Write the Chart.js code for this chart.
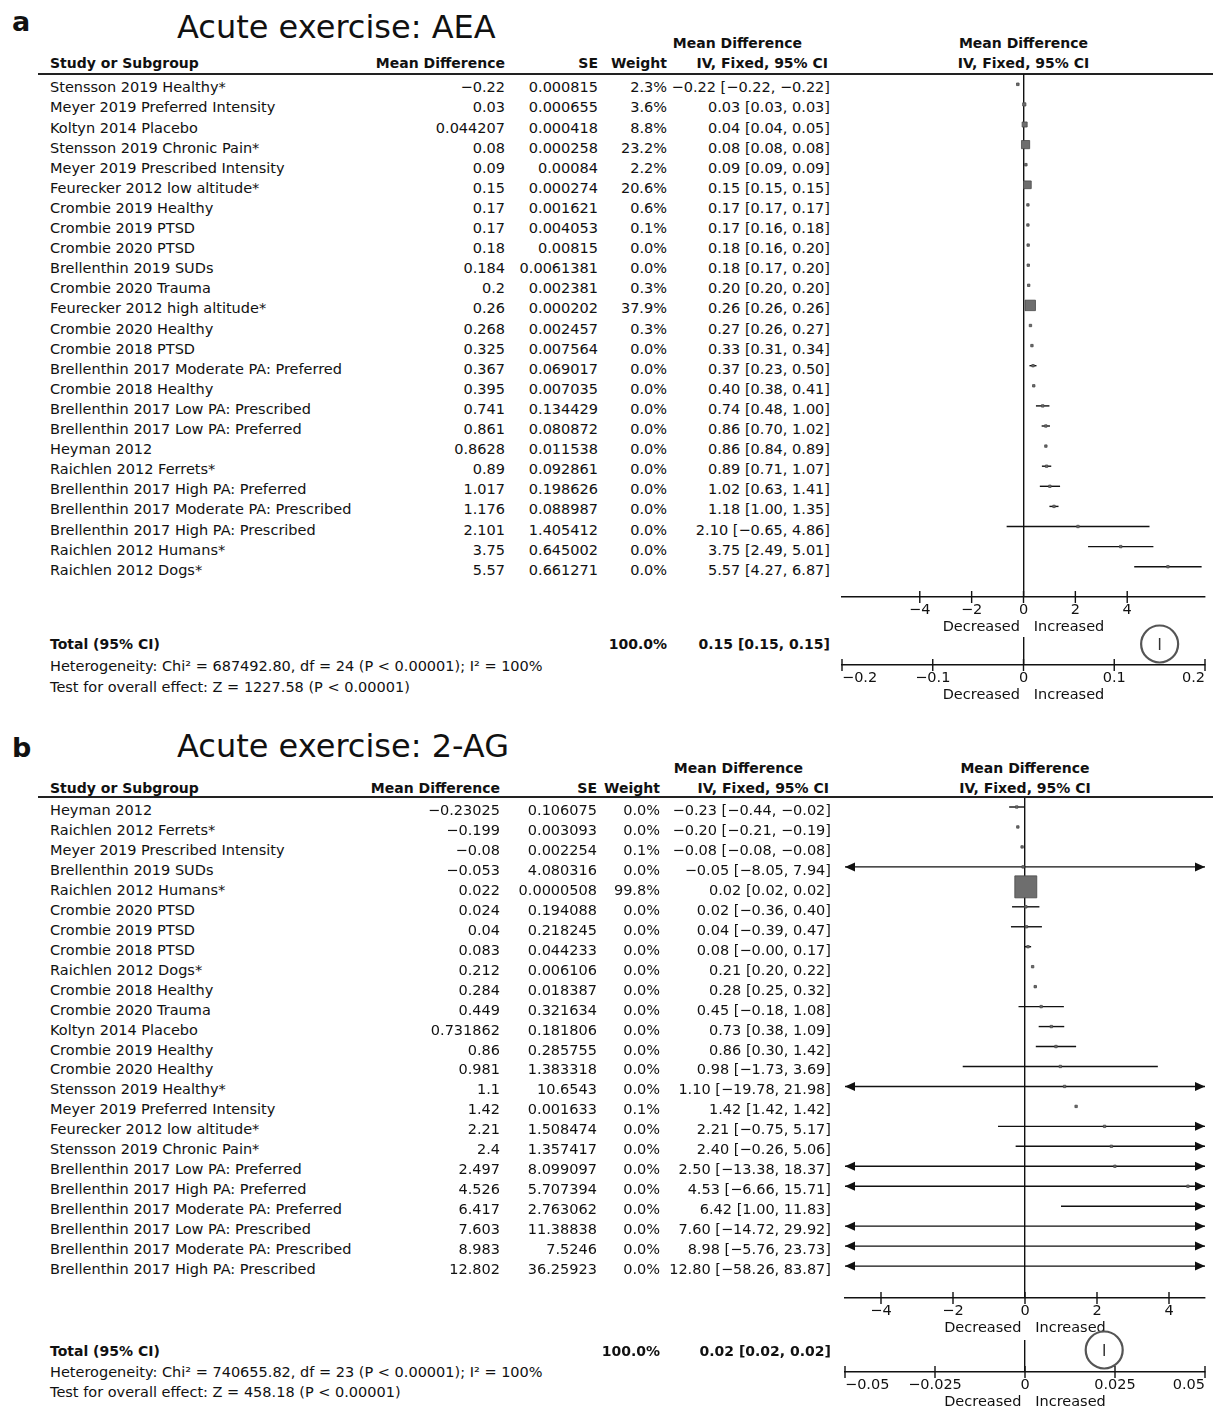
<!DOCTYPE html>
<html>
<head>
<meta charset="utf-8">
<script src="https://cdn.jsdelivr.net/npm/chart.js@4.4.0/dist/chart.umd.min.js"></script>
<style>
body { margin: 0; background: #fff; font-family: "DejaVu Sans", sans-serif; color: #111; }
#page { position: relative; width: 1213px; height: 1408px; overflow: hidden; }
.t { position: absolute; white-space: nowrap; font-size: 14.5px; line-height: 20px; }
.b { font-weight: bold; font-size: 14px; }
.rule { position: absolute; left: 38px; width: 1175px; height: 2px; background: #222; }
canvas { position: absolute; }
</style>
</head>
<body>
<div id="page"></div>
<script>
// ---- panel a : AEA ----
const aStudies = ["Stensson 2019 Healthy*", "Meyer 2019 Preferred Intensity", "Koltyn 2014 Placebo",
  "Stensson 2019 Chronic Pain*", "Meyer 2019 Prescribed Intensity", "Feurecker 2012 low altitude*",
  "Crombie 2019 Healthy", "Crombie 2019 PTSD", "Crombie 2020 PTSD", "Brellenthin 2019 SUDs",
  "Crombie 2020 Trauma", "Feurecker 2012 high altitude*", "Crombie 2020 Healthy", "Crombie 2018 PTSD",
  "Brellenthin 2017 Moderate PA: Preferred", "Crombie 2018 Healthy", "Brellenthin 2017 Low PA: Prescribed",
  "Brellenthin 2017 Low PA: Preferred", "Heyman 2012", "Raichlen 2012 Ferrets*",
  "Brellenthin 2017 High PA: Preferred", "Brellenthin 2017 Moderate PA: Prescribed",
  "Brellenthin 2017 High PA: Prescribed", "Raichlen 2012 Humans*", "Raichlen 2012 Dogs*"];
const aMD = [-0.22, 0.03, 0.044207, 0.08, 0.09, 0.15, 0.17, 0.17, 0.18, 0.184, 0.2, 0.26, 0.268, 0.325,
  0.367, 0.395, 0.741, 0.861, 0.8628, 0.89, 1.017, 1.176, 2.101, 3.75, 5.57];
const aSE = [0.000815, 0.000655, 0.000418, 0.000258, 0.00084, 0.000274, 0.001621, 0.004053, 0.00815,
  0.0061381, 0.002381, 0.000202, 0.002457, 0.007564, 0.069017, 0.007035, 0.134429, 0.080872, 0.011538,
  0.092861, 0.198626, 0.088987, 1.405412, 0.645002, 0.661271];
const aWeight = [2.3, 3.6, 8.8, 23.2, 2.2, 20.6, 0.6, 0.1, 0.0, 0.0, 0.3, 37.9, 0.3, 0.0, 0.0, 0.0, 0.0,
  0.0, 0.0, 0.0, 0.0, 0.0, 0.0, 0.0, 0.0];
const aLow = [-0.22, 0.03, 0.04, 0.08, 0.09, 0.15, 0.17, 0.16, 0.16, 0.17, 0.20, 0.26, 0.26, 0.31, 0.23,
  0.38, 0.48, 0.70, 0.84, 0.71, 0.63, 1.00, -0.65, 2.49, 4.27];
const aHigh = [-0.22, 0.03, 0.05, 0.08, 0.09, 0.15, 0.17, 0.18, 0.20, 0.20, 0.20, 0.26, 0.27, 0.34, 0.50,
  0.41, 1.00, 1.02, 0.89, 1.07, 1.41, 1.35, 4.86, 5.01, 6.87];
const aTotal = [0.15, 0.15, 0.15];           // estimate, lower, upper
const aTicks = [-4, -2, 0, 2, 4];
const aTotalTicks = [-0.2, -0.1, 0, 0.1, 0.2];
const aHetero = "Heterogeneity: Chi² = 687492.80, df = 24 (P < 0.00001); I² = 100%";
const aOverall = "Test for overall effect: Z = 1227.58 (P < 0.00001)";

// ---- panel b : 2-AG ----
const bStudies = ["Heyman 2012", "Raichlen 2012 Ferrets*", "Meyer 2019 Prescribed Intensity",
  "Brellenthin 2019 SUDs", "Raichlen 2012 Humans*", "Crombie 2020 PTSD", "Crombie 2019 PTSD",
  "Crombie 2018 PTSD", "Raichlen 2012 Dogs*", "Crombie 2018 Healthy", "Crombie 2020 Trauma",
  "Koltyn 2014 Placebo", "Crombie 2019 Healthy", "Crombie 2020 Healthy", "Stensson 2019 Healthy*",
  "Meyer 2019 Preferred Intensity", "Feurecker 2012 low altitude*", "Stensson 2019 Chronic Pain*",
  "Brellenthin 2017 Low PA: Preferred", "Brellenthin 2017 High PA: Preferred",
  "Brellenthin 2017 Moderate PA: Preferred", "Brellenthin 2017 Low PA: Prescribed",
  "Brellenthin 2017 Moderate PA: Prescribed", "Brellenthin 2017 High PA: Prescribed"];
const bMD = [-0.23025, -0.199, -0.08, -0.053, 0.022, 0.024, 0.04, 0.083, 0.212, 0.284, 0.449, 0.731862,
  0.86, 0.981, 1.1, 1.42, 2.21, 2.4, 2.497, 4.526, 6.417, 7.603, 8.983, 12.802];
const bSE = [0.106075, 0.003093, 0.002254, 4.080316, 0.0000508, 0.194088, 0.218245, 0.044233, 0.006106,
  0.018387, 0.321634, 0.181806, 0.285755, 1.383318, 10.6543, 0.001633, 1.508474, 1.357417, 8.099097,
  5.707394, 2.763062, 11.38838, 7.5246, 36.25923];
const bWeight = [0.0, 0.0, 0.1, 0.0, 99.8, 0.0, 0.0, 0.0, 0.0, 0.0, 0.0, 0.0, 0.0, 0.0, 0.0, 0.1, 0.0,
  0.0, 0.0, 0.0, 0.0, 0.0, 0.0, 0.0];
const bLow = [-0.44, -0.21, -0.08, -8.05, 0.02, -0.36, -0.39, -0.004, 0.20, 0.25, -0.18, 0.38, 0.30, -1.73,
  -19.78, 1.42, -0.75, -0.26, -13.38, -6.66, 1.00, -14.72, -5.76, -58.26];
const bHigh = [-0.02, -0.19, -0.08, 7.94, 0.02, 0.40, 0.47, 0.17, 0.22, 0.32, 1.08, 1.09, 1.42, 3.69,
  21.98, 1.42, 5.17, 5.06, 18.37, 15.71, 11.83, 29.92, 23.73, 83.87];
const bTotal = [0.022, 0.02, 0.02];
const bTicks = [-4, -2, 0, 2, 4];
const bTotalTicks = [-0.05, -0.025, 0, 0.025, 0.05];
const bHetero = "Heterogeneity: Chi² = 740655.82, df = 23 (P < 0.00001); I² = 100%";
const bOverall = "Test for overall effect: Z = 458.18 (P < 0.00001)";

const INK = '#111';
const FONT = '"DejaVu Sans", sans-serif';
const page = document.getElementById('page');

const minus = s => s.replace('-', '\u2212');
const fmt2 = v => (v < 0 ? '\u2212' : '') + (Math.round(Math.abs(v) * 100 + 1e-7) / 100).toFixed(2);
const ciText = (m, l, h) => fmt2(m) + ' [' + fmt2(l) + ', ' + fmt2(h) + ']';

function put(str, x, y, cls, align, style) {
  const d = document.createElement('div');
  d.className = 't ' + (cls || '');
  d.textContent = str;
  d.style.top = (y - 10) + 'px';
  if (align === 'right') d.style.right = (1213 - x) + 'px';
  else if (align === 'center') { d.style.left = x + 'px'; d.style.transform = 'translateX(-50%)'; }
  else d.style.left = x + 'px';
  if (style) Object.assign(d.style, style);
  page.appendChild(d);
  return d;
}

function addCanvas(left, top, w, h) {
  const c = document.createElement('canvas');
  c.width = w; c.height = h;
  c.style.left = left + 'px'; c.style.top = top + 'px';
  c.style.width = w + 'px'; c.style.height = h + 'px';
  page.appendChild(c);
  return c;
}

// CI whiskers, with arrow heads when clipped by the axis range
const ciLines = {
  id: 'ciLines',
  beforeDatasetsDraw(chart) {
    const { ctx, scales: { x, y } } = chart;
    chart.data.datasets.forEach(ds => ds.data.forEach(d => {
      if (d.lo === undefined) return;
      if (d.hi < x.min || d.lo > x.max) return;
      const py = y.getPixelForValue(d.y);
      const x1 = x.getPixelForValue(Math.max(d.lo, x.min));
      const x2 = x.getPixelForValue(Math.min(d.hi, x.max));
      ctx.save();
      ctx.strokeStyle = INK; ctx.fillStyle = INK; ctx.lineWidth = 1.4;
      ctx.beginPath(); ctx.moveTo(x1, py); ctx.lineTo(x2, py); ctx.stroke();
      const arrow = (px, dir) => {
        ctx.beginPath();
        ctx.moveTo(px, py);
        ctx.lineTo(px - dir * 10, py - 4.5);
        ctx.lineTo(px - dir * 10, py + 4.5);
        ctx.closePath(); ctx.fill();
      };
      if (d.lo < x.min) arrow(x1, -1);
      if (d.hi > x.max) arrow(x2, 1);
      ctx.restore();
    }));
  }
};

// tick marks crossing the axis line
const crossTicks = {
  id: 'crossTicks',
  afterDraw(chart) {
    const x = chart.scales.x, ctx = chart.ctx, y0 = x.top;
    ctx.save();
    ctx.strokeStyle = INK; ctx.lineWidth = 1.4;
    x.ticks.forEach(t => {
      const px = x.getPixelForValue(t.value);
      ctx.beginPath(); ctx.moveTo(px, y0 - 6); ctx.lineTo(px, y0 + 6); ctx.stroke();
    });
    ctx.restore();
  }
};

function xScale(min, max, ticks, align) {
  return {
    type: 'linear', min: min, max: max,
    afterBuildTicks: s => { s.ticks = ticks.map(v => ({ value: v })); },
    afterFit: s => { s.height = 40; },
    ticks: { color: INK, font: { family: FONT, size: 14.5 }, padding: 5, align: align,
             callback: v => minus(String(v)) },
    grid: { drawTicks: false, lineWidth: 1.4,
            color: c => (c.tick && c.tick.value === 0) ? INK : 'rgba(0,0,0,0)' },
    border: { display: true, color: INK, width: 1.4 },
    title: { display: true, text: 'Decreased   Increased', color: INK,
             font: { family: FONT, size: 14.5 }, padding: { top: 0, bottom: 1.5 } }
  };
}

function panel(P, L) {
  put(L.label, 12, L.labelY, '', 'left', { fontWeight: 'bold', fontSize: '27px', lineHeight: '20px' });
  put(L.title, 177, L.titleY, '', 'left', { fontSize: '32px', lineHeight: '20px' });

  // header
  put('Study or Subgroup', 50, L.headLower, 'b');
  put('Mean Difference', L.cols.md, L.headLower, 'b', 'right');
  put('SE', L.cols.se, L.headLower, 'b', 'right');
  put('Weight', L.cols.w, L.headLower, 'b', 'right');
  put('Mean Difference', L.cols.ci - 28, L.headUpper, 'b', 'right');
  put('IV, Fixed, 95% CI', L.cols.ci - 2, L.headLower, 'b', 'right');
  const rule = document.createElement('div');
  rule.className = 'rule'; rule.style.top = L.ruleY + 'px';
  page.appendChild(rule);

  // study rows
  const areaH = L.axisY - L.areaTop;
  const ymin = -(L.firstRow - L.areaTop) / L.step;
  const cv = addCanvas(830, L.areaTop, 383, areaH + 40);
  const side = w => Math.max(2.4, L.k * Math.sqrt(w));
  const chart = new Chart(cv, {
    type: 'scatter',
    data: { datasets: [{
      data: P.md.map((v, i) => ({ x: v, y: i, lo: P.low[i], hi: P.high[i] })),
      pointStyle: 'rect',
      pointRadius: c => side(P.weight[c.dataIndex]) / Math.SQRT2,
      pointBackgroundColor: '#6e6e6e', pointBorderColor: '#4a4a4a', pointBorderWidth: 0.8
    }] },
    options: {
      responsive: false, animation: false, devicePixelRatio: 1, events: [],
      layout: { autoPadding: false, padding: { left: L.padLeft, right: 8, top: 0, bottom: 0 } },
      plugins: { legend: { display: false }, tooltip: { enabled: false } },
      scales: {
        x: xScale(L.xmin, L.xmax, P.ticks, 'center'),
        y: { type: 'linear', display: false, reverse: true, min: ymin, max: ymin + areaH / L.step }
      }
    },
    plugins: [ciLines, crossTicks]
  });

  const zeroX = 830 + chart.scales.x.getPixelForValue(0);
  put('Mean Difference', zeroX, L.headUpper, 'b', 'center');
  put('IV, Fixed, 95% CI', zeroX, L.headLower, 'b', 'center');

  P.studies.forEach((s, i) => {
    const y = L.areaTop + chart.scales.y.getPixelForValue(i) + 3;
    put(s, 50, y);
    put(minus(String(P.md[i])), L.cols.md, y, '', 'right');
    put(String(P.se[i]), L.cols.se, y, '', 'right');
    put(P.weight[i].toFixed(1) + '%', L.cols.w, y, '', 'right');
    put(ciText(P.md[i], P.low[i], P.high[i]), L.cols.ci, y, '', 'right');
  });

  // total (pooled) row with its own zoomed axis; extra top room for the highlight ring
  const ring = 24;
  const tH = L.totalAxis - L.totalTop;
  const tmin = -(L.totalRowY - L.totalTop) / tH;
  const tc = addCanvas(830, L.totalTop - ring, 383, tH + 40 + ring);
  new Chart(tc, {
    type: 'scatter',
    data: { datasets: [
      { data: [{ x: P.total[0], y: 0 }], pointStyle: 'line', pointRotation: 90, pointRadius: 6,
        pointBorderColor: '#333', pointBorderWidth: 1.5, clip: false },
      { data: [{ x: P.total[0], y: 0 }], pointStyle: 'circle', pointRadius: 18.5,
        pointBackgroundColor: 'rgba(0,0,0,0)', pointBorderColor: '#555', pointBorderWidth: 2.2, clip: false }
    ] },
    options: {
      responsive: false, animation: false, devicePixelRatio: 1, events: [],
      layout: { autoPadding: false, padding: { left: L.padLeft, right: 8, top: ring, bottom: 0 } },
      plugins: { legend: { display: false }, tooltip: { enabled: false } },
      scales: {
        x: xScale(P.totalTicks[0], P.totalTicks[P.totalTicks.length - 1], P.totalTicks, 'inner'),
        y: { type: 'linear', display: false, reverse: true, min: tmin, max: tmin + 1 }
      }
    },
    plugins: [crossTicks]
  });

  put('Total (95% CI)', 50, L.foot[0], 'b');
  put('100.0%', L.cols.w, L.foot[0], 'b', 'right');
  put(ciText(P.total[0], P.total[1], P.total[2]), L.cols.ci, L.foot[0], 'b', 'right');
  put(P.hetero, 50, L.foot[1]);
  put(P.overall, 50, L.foot[2]);
}

panel(
  { studies: aStudies, md: aMD, se: aSE, weight: aWeight, low: aLow, high: aHigh, total: aTotal,
    ticks: aTicks, totalTicks: aTotalTicks, hetero: aHetero, overall: aOverall },
  { label: 'a', labelY: 22, title: 'Acute exercise: AEA', titleY: 27, headUpper: 43, headLower: 63,
    ruleY: 73, areaTop: 74, axisY: 597, firstRow: 84.3, step: 20.1, k: 1.7, padLeft: 12,
    xmin: -7, xmax: 7, cols: { md: 505, se: 598, w: 667, ci: 830 },
    totalTop: 637, totalAxis: 665, totalRowY: 644, foot: [644, 666, 687] }
);

panel(
  { studies: bStudies, md: bMD, se: bSE, weight: bWeight, low: bLow, high: bHigh, total: bTotal,
    ticks: bTicks, totalTicks: bTotalTicks, hetero: bHetero, overall: bOverall },
  { label: 'b', labelY: 748, title: 'Acute exercise: 2-AG', titleY: 746, headUpper: 768, headLower: 788,
    ruleY: 796, areaTop: 798, axisY: 1298, firstRow: 807, step: 19.96, k: 2.2, padLeft: 15,
    xmin: -5, xmax: 5, cols: { md: 500, se: 597, w: 660, ci: 831 },
    totalTop: 1340, totalAxis: 1372, totalRowY: 1350, foot: [1351, 1372, 1392] }
);
</script>
</body>
</html>
